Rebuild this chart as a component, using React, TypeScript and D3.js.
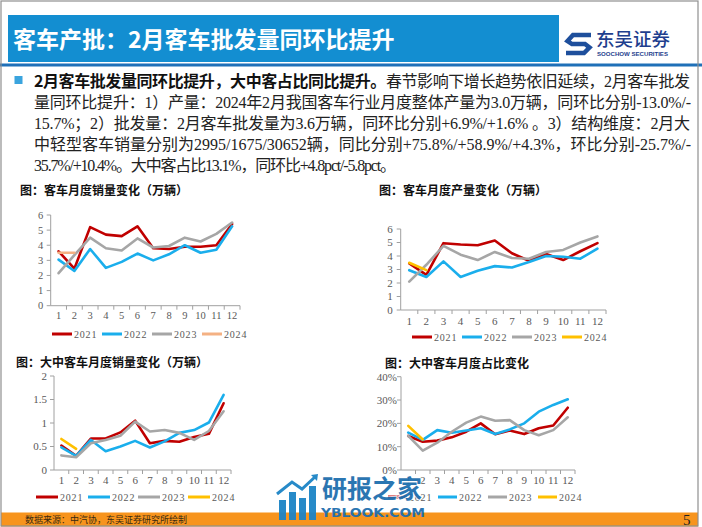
import React from 'react';
import * as d3 from 'd3';

const months = ['1', '2', '3', '4', '5', '6', '7', '8', '9', '10', '11', '12'];
const years = ['2021', '2022', '2023', '2024'];

// 客车月度销量（万辆）
const sales2021 = [3.6, 2.45, 5.2, 4.7, 4.6, 5.25, 3.8, 3.75, 3.9, 3.9, 4.0, 5.4];
const sales2022 = [3.05, 2.3, 3.75, 2.5, 2.9, 3.45, 3.0, 3.4, 4.0, 3.5, 3.7, 5.25];
const sales2023 = [2.15, 3.35, 4.5, 3.8, 3.65, 4.45, 3.85, 3.95, 4.5, 4.25, 4.75, 5.5];
const sales2024 = [3.5, 3.5];

// 客车月度产量（万辆）
const prod2021 = [3.45, 2.6, 4.95, 4.85, 4.8, 5.15, 4.2, 3.65, 4.15, 3.7, 4.35, 4.95];
const prod2022 = [2.95, 2.45, 3.6, 2.45, 2.9, 3.25, 3.15, 3.55, 4.0, 3.95, 3.8, 4.55];
const prod2023 = [2.1, 3.35, 4.75, 4.1, 3.7, 4.3, 3.85, 3.8, 4.3, 4.45, 5.0, 5.45];
const prod2024 = [3.5, 2.95];

// 大中客车月度销量（万辆）
const large2021 = [0.52, 0.3, 0.67, 0.67, 0.8, 1.05, 0.57, 0.62, 0.6, 0.7, 0.77, 1.42];
const large2022 = [0.48, 0.3, 0.64, 0.4, 0.5, 0.62, 0.48, 0.61, 0.79, 0.85, 1.01, 1.6];
const large2023 = [0.31, 0.27, 0.57, 0.64, 0.73, 1.03, 0.82, 0.85, 0.79, 0.64, 0.83, 1.25];
const large2024 = [0.66, 0.45];

// 大中客车月度占比
const share2021 = [0.146, 0.121, 0.126, 0.14, 0.164, 0.2, 0.153, 0.169, 0.154, 0.179, 0.191, 0.267];
const share2022 = [0.16, 0.129, 0.171, 0.16, 0.169, 0.179, 0.154, 0.174, 0.2, 0.25, 0.279, 0.303];
const share2023 = [0.146, 0.083, 0.117, 0.164, 0.203, 0.229, 0.211, 0.214, 0.171, 0.149, 0.171, 0.226];
const share2024 = [0.189, 0.131];

const RED = '#C00000';
const BLUE = '#1AAEEC';
const GRAY = '#A6A6A6';
const GOLD = '#FFC000';
const SALMON = '#F4B183';

const SERIF = '"Times New Roman", "Liberation Serif", "Noto Sans CJK SC", serif';
const SANS = '"Noto Sans CJK SC", "Noto Sans", sans-serif';

type ChartProps = {
  title: string;
  titleX: number;
  titleY: number;
  x0: number;
  x1: number;
  yTop: number;
  yBottom: number;
  domain: [number, number];
  ticks: number[];
  fmt: (v: number) => string;
  fontSize: number;
  labelGap: number;
  xLabelY: number;
  series: number[][];
  colors: string[];
  legendY: number;
  legendX: number[];
  legendLen: number;
};

function LineChart(p: ChartProps) {
  const x = d3.scaleBand<string>().domain(months).range([p.x0, p.x1]);
  const y = d3.scaleLinear().domain(p.domain).range([p.yBottom, p.yTop]);
  const line = d3
    .line<number>()
    .x((_, i) => (x(months[i]) as number) + x.bandwidth() / 2)
    .y((d) => y(d));
  const axisColor = '#A0A0A0';
  return (
    <g>
      <text x={p.titleX} y={p.titleY} fontFamily={SANS} fontWeight={700} fontSize={12} fill="#111">
        {p.title}
      </text>
      <line x1={p.x0} x2={p.x0} y1={p.yTop} y2={p.yBottom} stroke={axisColor} strokeWidth={1} />
      {p.ticks.map((t) => (
        <g key={'yt' + t}>
          <line x1={p.x0 - 4} x2={p.x0} y1={y(t)} y2={y(t)} stroke={axisColor} />
          <text
            x={p.x0 - p.labelGap}
            y={y(t) + p.fontSize * 0.35}
            textAnchor="end"
            fontFamily={SERIF}
            fontSize={p.fontSize}
            fill="#595959"
          >
            {p.fmt(t)}
          </text>
        </g>
      ))}
      <line x1={p.x0} x2={p.x1} y1={p.yBottom} y2={p.yBottom} stroke={axisColor} />
      {months.map((m) => (
        <line
          key={'xt' + m}
          x1={(x(m) as number) + x.bandwidth()}
          x2={(x(m) as number) + x.bandwidth()}
          y1={p.yBottom}
          y2={p.yBottom + 4}
          stroke={axisColor}
        />
      ))}
      {months.map((m) => (
        <text
          key={'xl' + m}
          x={(x(m) as number) + x.bandwidth() / 2}
          y={p.xLabelY}
          textAnchor="middle"
          fontFamily={SERIF}
          fontSize={p.fontSize}
          fill="#595959"
        >
          {m}
        </text>
      ))}
      {p.series.map((s, i) => (
        <path
          key={'s' + i}
          d={line(s) || ''}
          fill="none"
          stroke={p.colors[i]}
          strokeWidth={2.6}
          strokeLinejoin="round"
          strokeLinecap="round"
        />
      ))}
      {years.map((yr, i) => (
        <g key={'lg' + yr}>
          <line
            x1={p.legendX[i]}
            x2={p.legendX[i] + p.legendLen}
            y1={p.legendY}
            y2={p.legendY}
            stroke={p.colors[i]}
            strokeWidth={3}
          />
          <text
            x={p.legendX[i] + p.legendLen + 2}
            y={p.legendY + 3.5}
            fontFamily={SERIF}
            fontSize={10}
            letterSpacing={0.8}
            fill="#595959"
          >
            {yr}
          </text>
        </g>
      ))}
    </g>
  );
}

const bodyLines: { bold?: string; text: string; width: number }[] = [
  { bold: '2月客车批发量同环比提升，大中客占比同比提升。', text: '春节影响下增长趋势依旧延续，2月客车批发', width: 656 },
  { text: '量同环比提升：1）产量：2024年2月我国客车行业月度整体产量为3.0万辆，同环比分别-13.0%/-', width: 657 },
  { text: '15.7%；2）批发量：2月客车批发量为3.6万辆，同环比分别+6.9%/+1.6% 。3）结构维度：2月大', width: 656 },
  { text: '中轻型客车销量分别为2995/1675/30652辆，同比分别+75.8%/+58.9%/+4.3%，环比分别-25.7%/-', width: 657 },
  { text: '35.7%/+10.4%。大中客占比13.1%，同环比+4.8pct/-5.8pct。', width: 362 },
];

export default function App() {
  const pct = (v: number) => `${Math.round(v * 100)}%`;
  const num = (v: number) => `${v}`;
  return (
    <svg
      width={702}
      height={527}
      viewBox="0 0 702 527"
      style={{ position: 'absolute', left: 0, top: 0, background: '#fff' }}
    >
      <rect x={0} y={0} width={702} height={527} fill="#fff" />
      {/* header */}
      <rect x={8} y={15} width={551} height={47} fill="#138ED1" />
      <text x={13} y={48} fontFamily={SANS} fontWeight={700} fontSize={23} fill="#fff">
        客车产批：2月客车批发量同环比提升
      </text>
      <rect x={0} y={63.5} width={702} height={3} fill="#1F70B8" />
      {/* logo */}
      <g>
        <path
          d="M591 35 L573 35 L567.5 41 L572 44 L585 44 L589.5 47.5 L584 53 L566 53"
          fill="none"
          stroke="#1E4F9C"
          strokeWidth={4.5}
          strokeLinejoin="miter"
        />
        <text x={596} y={46} fontFamily={SANS} fontWeight={500} fontSize={18.5} fill="#1F3F8E">
          东吴证券
        </text>
        <text
          x={597}
          y={56}
          fontFamily='"Liberation Sans", Arial, sans-serif'
          fontWeight={700}
          fontSize={6.2}
          fill="#1F3F8E"
          textLength={71}
          lengthAdjust="spacingAndGlyphs"
        >
          SOOCHOW SECURITIES
        </text>
      </g>
      {/* bullet text */}
      <rect x={14.5} y={76} width={8} height={8} fill="#3AA4DE" />
      {bodyLines.map((l, i) => (
        <text
          key={'b' + i}
          x={34}
          y={86.5 + i * 21}
          fontFamily={SERIF}
          fontSize={16}
          fill="#222"
          textLength={l.width}
          lengthAdjust="spacing"
        >
          {l.bold ? (
            <tspan fontFamily={SANS} fontWeight={700} fill="#111">
              {l.bold}
            </tspan>
          ) : null}
          <tspan>{l.text}</tspan>
        </text>
      ))}
      <LineChart
        title="图：客车月度销量变化（万辆）"
        titleX={20}
        titleY={195}
        x0={50.7}
        x1={240}
        yTop={215}
        yBottom={305.7}
        domain={[0, 6]}
        ticks={[0, 1, 2, 3, 4, 5, 6]}
        fmt={num}
        fontSize={10.5}
        labelGap={7.5}
        xLabelY={319}
        series={[sales2021, sales2022, sales2023, sales2024]}
        colors={[RED, BLUE, GRAY, SALMON]}
        legendY={334}
        legendX={[52, 102, 152, 202]}
        legendLen={20}
      />
      <LineChart
        title="图：客车月度产量变化（万辆）"
        titleX={379}
        titleY={195}
        x0={400.7}
        x1={606}
        yTop={229}
        yBottom={310}
        domain={[0, 6]}
        ticks={[0, 1, 2, 3, 4, 5, 6]}
        fmt={num}
        fontSize={11}
        labelGap={8}
        xLabelY={325}
        series={[prod2021, prod2022, prod2023, prod2024]}
        colors={[RED, BLUE, GRAY, GOLD]}
        legendY={337}
        legendX={[412, 462, 512, 562]}
        legendLen={20}
      />
      <LineChart
        title="图：大中客车月度销量变化（万辆）"
        titleX={16}
        titleY={367}
        x0={54}
        x1={231}
        yTop={376}
        yBottom={470}
        domain={[0, 2]}
        ticks={[0, 0.5, 1, 1.5, 2]}
        fmt={num}
        fontSize={11}
        labelGap={7}
        xLabelY={484}
        series={[large2021, large2022, large2023, large2024]}
        colors={[RED, BLUE, GRAY, GOLD]}
        legendY={497}
        legendX={[36, 88, 138, 188]}
        legendLen={22}
      />
      <LineChart
        title="图：大中客车月度占比变化"
        titleX={385}
        titleY={368}
        x0={401}
        x1={575}
        yTop={376.7}
        yBottom={470}
        domain={[0, 0.4]}
        ticks={[0, 0.1, 0.2, 0.3, 0.4]}
        fmt={pct}
        fontSize={11}
        labelGap={4}
        xLabelY={484}
        series={[share2021, share2022, share2023, share2024]}
        colors={[RED, BLUE, GRAY, GOLD]}
        legendY={497}
        legendX={[388, 438, 488, 538]}
        legendLen={19}
      />
      {/* footer */}
      <rect x={1} y={512.5} width={697} height={14} fill="#F7941D" />
      <text x={25} y={523} fontFamily={SANS} fontSize={9} fill="#3a2a10">
        数据来源：中汽协，东吴证券研究所绘制
      </text>
      <text x={683} y={525} fontFamily={SERIF} fontSize={15} fill="#222">
        5
      </text>
      {/* watermark */}
      <g opacity={0.95}>
        <rect x={279} y={500} width={7} height={20} fill="#1C84C6" />
        <rect x={289} y={492} width={7} height={28} fill="#1C84C6" />
        <rect x={299} y={498} width={7} height={22} fill="#1C84C6" />
        <rect x={309} y={486} width={7} height={34} fill="#1C84C6" />
        <path d="M277 494 L292 482 L302 489 L316 476" fill="none" stroke="#1C84C6" strokeWidth={3} />
        <path d="M311 475 L318 474 L317 481 Z" fill="#1C84C6" />
        <text
          x={322}
          y={498}
          fontFamily={SANS}
          fontWeight={700}
          fontSize={25}
          fill="#1F6FAE"
          stroke="#fff"
          strokeWidth={1.5}
          paintOrder="stroke"
        >
          研报之家
        </text>
        <text
          x={321}
          y={517}
          fontFamily='"DejaVu Sans", sans-serif'
          fontWeight={700}
          fontSize={13}
          fill="#1F6FAE"
          textLength={104}
          lengthAdjust="spacingAndGlyphs"
        >
          YBLOOK.COM
        </text>
      </g>
      {/* outer frame */}
      <rect x={1} y={1} width={697} height={525} fill="none" stroke="#8F8F8F" strokeWidth={1.2} />
    </svg>
  );
}
